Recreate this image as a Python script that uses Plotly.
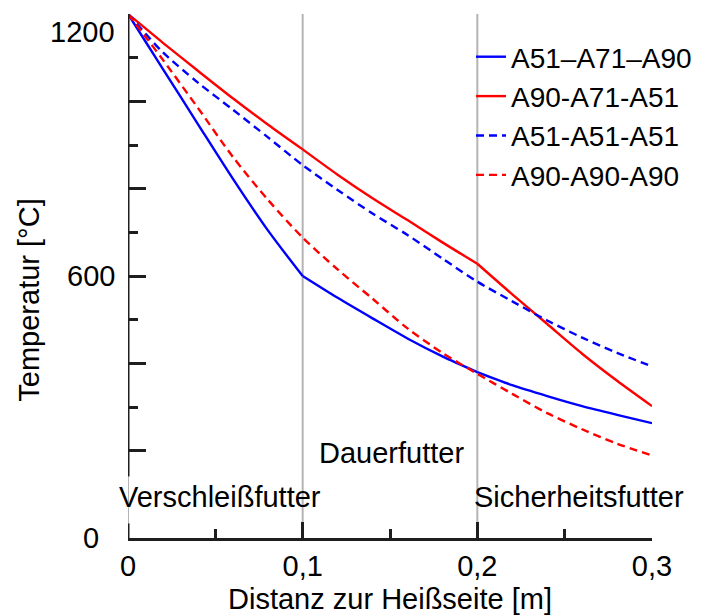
import plotly.graph_objects as go

# ---------------- data ----------------
distance = [0, 0.01, 0.02, 0.04, 0.06, 0.08, 0.1, 0.12, 0.14, 0.16, 0.18, 0.2,
            0.22, 0.24, 0.26, 0.28, 0.3]

series_names = ["A51\u2013A71\u2013A90", "A90-A71-A51", "A51-A51-A51", "A90-A90-A90"]

temp_a51_a71_a90 = [1200, 1137, 1074, 948, 823, 705, 600, 550, 503, 457, 416, 380,
                    350, 325, 302, 282, 263]
temp_a90_a71_a51 = [1200, 1167, 1134, 1070, 1007, 947, 890, 832, 778, 728, 677, 628,
                    558, 490, 422, 360, 302]
temp_a51_a51_a51 = [1200, 1155, 1112, 1043, 981, 918, 854, 797, 743, 694, 640, 587,
                    542, 498, 459, 424, 393]
temp_a90_a90_a90 = [1200, 1148, 1095, 985, 873, 775, 688, 615, 548, 480, 424, 376,
                    330, 286, 249, 216, 189]

x_tick_vals = [0, 0.1, 0.2, 0.3]
x_tick_text = ["0", "0,1", "0,2", "0,3"]
x_minor_vals = [0.05, 0.15, 0.25]
y_major_vals = [200, 400, 600, 800, 1000]
y_minor_vals = [300, 500, 700, 900, 1100]
y_label_vals = [0, 600, 1200]
y_label_text = ["0", "600", "1200"]

zone_edges = [0, 0.1, 0.2, 0.3]
zone_labels = ["Verschlei\u00dffutter", "Dauerfutter", "Sicherheitsfutter"]
zone_label_x = [0, 0.1506, 0.2]
zone_label_y = [94, 194, 94]

x_title = "Distanz zur Hei\u00dfseite [m]"
y_title = "Temperatur [\u00b0C]"

# ---------------- styles ----------------
FONT = "Liberation Sans, Arial, sans-serif"
FS = 29
LFS = 28
BLUE = "#0000ff"
RED = "#ff0000"
AXIS = "#1e1e1e"
GRID = "#b4b4b4"
DASH = "8px,5px"
zone_label_anchor = ["left", "center", "left"]
zone_label_xshift = [-11, 0, -5]

styles = [
    dict(color=BLUE, dash="solid", split=True),
    dict(color=RED, dash="solid", split=True),
    dict(color=BLUE, dash=DASH, split=False),
    dict(color=RED, dash=DASH, split=False),
]
series_vals = [temp_a51_a71_a90, temp_a90_a71_a51, temp_a51_a51_a51, temp_a90_a90_a90]

fig = go.Figure()
for name, vals, st in zip(series_names, series_vals, styles):
    if st["split"]:
        # layered wall: smooth inside each layer, kink at layer boundaries
        segments = []
        for a, b in zip(zone_edges[:-1], zone_edges[1:]):
            idx = [i for i, d in enumerate(distance) if a - 1e-9 <= d <= b + 1e-9]
            segments.append(idx)
    else:
        segments = [list(range(len(distance)))]
    for k, idx in enumerate(segments):
        fig.add_trace(go.Scatter(
            x=[distance[i] for i in idx], y=[vals[i] for i in idx],
            mode="lines", name=name, legendgroup=name, showlegend=(k == 0),
            line=dict(color=st["color"], dash=st["dash"], width=2.4,
                      shape="spline", smoothing=0.8),
            cliponaxis=False,
        ))

shapes = []
for xb in zone_edges[1:3]:
    shapes.append(dict(type="line", xref="x", yref="y", x0=xb, x1=xb, y0=0, y1=1200,
                       line=dict(color=GRID, width=2), layer="below"))
shapes.append(dict(type="line", xref="x", yref="y", x0=0, x1=0, y0=0, y1=34,
                   line=dict(color=AXIS, width=3), layer="above"))
shapes.append(dict(type="line", xref="x", yref="y", x0=0, x1=0, y0=34, y1=141,
                   line=dict(color=GRID, width=2), layer="above"))
shapes.append(dict(type="line", xref="x", yref="y", x0=0, x1=0, y0=141, y1=1200,
                   line=dict(color=AXIS, width=3), layer="above"))

annotations = []
for txt, xv, yv, anc, xs in zip(zone_labels, zone_label_x, zone_label_y,
                                zone_label_anchor, zone_label_xshift):
    annotations.append(dict(text=txt, x=xv, y=yv, xref="x", yref="y", xanchor=anc,
                            yanchor="middle", xshift=xs, showarrow=False,
                            font=dict(family=FONT, size=FS, color="black")))
y_label_shift = [(-27, 0), (-11, 0), (-11, -18)]
for yv, txt, (xs, ys) in zip(y_label_vals, y_label_text, y_label_shift):
    annotations.append(dict(text=txt, x=0, y=yv, xref="x", yref="y", xanchor="right",
                            yanchor="middle", xshift=xs, yshift=ys, showarrow=False,
                            font=dict(family=FONT, size=FS, color="black")))

ML, MR, MT, MB = 128, 50, 14, 77
plot_w = 702 - ML - MR
plot_h = 615 - MT - MB
annotations.append(dict(text=y_title, x=(29 - ML) / plot_w, y=(615 - MB - 300.7) / plot_h,
                        xref="paper", yref="paper", showarrow=False, textangle=-90,
                        xanchor="center", yanchor="middle",
                        font=dict(family=FONT, size=FS, color="black")))

fig.update_layout(
    width=702, height=615,
    margin=dict(l=ML, r=MR, t=MT, b=MB, autoexpand=False),
    paper_bgcolor="white", plot_bgcolor="white",
    font=dict(family=FONT, size=FS, color="black"),
    showlegend=True,
    legend=dict(x=(471 - ML) / plot_w, y=(615 - MB - 32) / plot_h,
                xanchor="left", yanchor="top",
                bgcolor="rgba(0,0,0,0)", font=dict(family=FONT, size=LFS, color="black"),
                tracegroupgap=0),
    shapes=shapes,
    annotations=annotations,
)

fig.update_xaxes(
    range=[0, 0.3], showgrid=False, zeroline=False,
    showline=True, linecolor=AXIS, linewidth=3,
    tickmode="array", tickvals=x_tick_vals, ticktext=x_tick_text,
    ticks="inside", ticklen=16, tickwidth=2.5, tickcolor=AXIS,
    tickfont=dict(family=FONT, size=FS, color="black"),
    minor=dict(tickvals=x_minor_vals, ticks="inside", ticklen=9, tickwidth=2.5,
               tickcolor=AXIS, showgrid=False),
    title=dict(text=x_title, font=dict(family=FONT, size=FS, color="black"), standoff=9),
)
fig.update_yaxes(
    range=[0, 1200], showgrid=False, zeroline=False, showline=False,
    tickmode="array", tickvals=y_major_vals, showticklabels=False,
    ticks="inside", ticklen=18, tickwidth=2.5, tickcolor=AXIS,
    minor=dict(tickvals=y_minor_vals, ticks="inside", ticklen=10, tickwidth=2.5,
               tickcolor=AXIS, showgrid=False),
)

fig.write_html("out.html")
